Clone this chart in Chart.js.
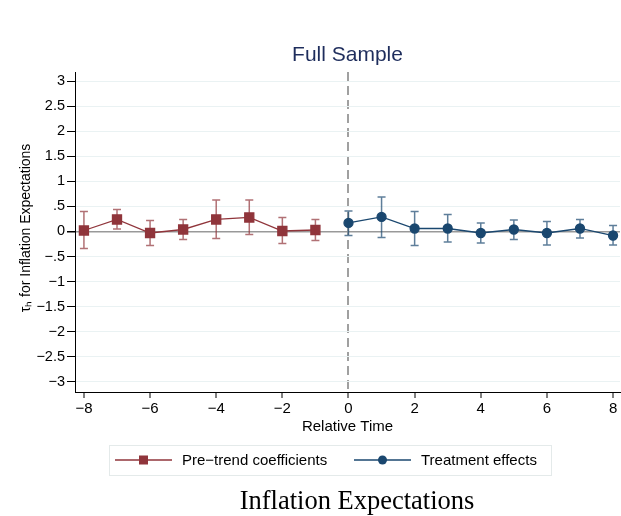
<!DOCTYPE html>
<html lang="en">
  <head>
    <meta charset="UTF-8" />
    <title>Full Sample</title>
    <style>
      body { margin: 0; background: #fff; }
      #wrap { width: 621px; height: 516px; }
    </style>
  </head>
  <body>
    <script src="https://cdn.jsdelivr.net/npm/chart.js"></script>
    <div id="wrap"><canvas id="myChart" width="621" height="516"></canvas></div>
    <script>
      // relative time and estimates
      const preX = [-8, -7, -6, -5, -4, -3, -2, -1];
      const preCoef = [0.02, 0.24, -0.03, 0.04, 0.24, 0.28, 0.01, 0.03];
      const preLo = [-0.34, 0.05, -0.28, -0.16, -0.14, -0.06, -0.24, -0.18];
      const preHi = [0.40, 0.44, 0.22, 0.24, 0.63, 0.63, 0.28, 0.24];

      const postX = [0, 1, 2, 3, 4, 5, 6, 7, 8];
      const postCoef = [0.17, 0.29, 0.06, 0.06, -0.03, 0.04, -0.03, 0.06, -0.08];
      const postLo = [-0.08, -0.12, -0.28, -0.21, -0.23, -0.16, -0.27, -0.13, -0.27];
      const postHi = [0.41, 0.69, 0.40, 0.34, 0.17, 0.23, 0.20, 0.24, 0.12];

      const xTicks = [-8, -6, -4, -2, 0, 2, 4, 6, 8];
      const yTicks = [-3, -2.5, -2, -1.5, -1, -0.5, 0, 0.5, 1, 1.5, 2, 2.5, 3];

      const red = "#90353b";
      const navy = "#1a476f";
      const sans = "'Liberation Sans', Arial, sans-serif";

      function fmt(v) {
        let s = String(Math.abs(v));
        if (s.startsWith("0.")) s = s.slice(1);
        return (v < 0 ? "\u2212" : "") + s;
      }

      const errorBars = {
        id: "errorBars",
        afterDatasetsDraw(chart) {
          const { ctx, scales } = chart;
          chart.data.datasets.forEach((ds) => {
            ctx.save();
            ctx.strokeStyle = ds.errColor;
            ctx.lineWidth = 1.5;
            ds.data.forEach((p, i) => {
              const x = scales.x.getPixelForValue(p.x);
              const y1 = scales.y.getPixelForValue(ds.lo[i]);
              const y2 = scales.y.getPixelForValue(ds.hi[i]);
              ctx.beginPath();
              ctx.moveTo(x, y1); ctx.lineTo(x, y2);
              ctx.moveTo(x - 4, y1); ctx.lineTo(x + 4, y1);
              ctx.moveTo(x - 4, y2); ctx.lineTo(x + 4, y2);
              ctx.stroke();
            });
            ctx.restore();
          });
        },
      };

      const decorations = {
        id: "decorations",
        afterDraw(chart) {
          const { ctx, chartArea } = chart;
          const cx = (chartArea.left + chartArea.right) / 2;
          ctx.save();
          ctx.textAlign = "center";
          ctx.textBaseline = "middle";
          ctx.fillStyle = "#1e2d5c";
          ctx.font = "21px " + sans;
          ctx.fillText("Full Sample", cx, 55);

          // y-axis title
          ctx.save();
          ctx.translate(26, 228);
          ctx.rotate(-Math.PI / 2);
          ctx.fillStyle = "#000";
          ctx.font = "14px " + sans;
          ctx.fillText("\u03c4\u2095 for Inflation Expectations", 0, 0);
          ctx.restore();

          // legend
          ctx.strokeStyle = "#e4eaea";
          ctx.lineWidth = 1;
          ctx.strokeRect(109.5, 445.5, 442, 30);
          const items = [
            { x0: 115, label: "Pre\u2212trend coefficients", color: red, style: "rect" },
            { x0: 354, label: "Treatment effects", color: navy, style: "circle" },
          ];
          ctx.font = "15px " + sans;
          ctx.textAlign = "left";
          items.forEach((it) => {
            const y = 460;
            ctx.strokeStyle = it.color;
            ctx.lineWidth = 1.3;
            ctx.beginPath();
            ctx.moveTo(it.x0, y); ctx.lineTo(it.x0 + 57, y);
            ctx.stroke();
            ctx.fillStyle = it.color;
            const mx = it.x0 + 28.5;
            if (it.style === "rect") {
              ctx.fillRect(mx - 4.5, y - 4.5, 9, 9);
            } else {
              ctx.beginPath();
              ctx.arc(mx, y, 4.5, 0, Math.PI * 2);
              ctx.fill();
            }
            ctx.fillStyle = "#000";
            ctx.fillText(it.label, it.x0 + 67, y + 1);
          });

          // caption
          ctx.textAlign = "center";
          ctx.fillStyle = "#000";
          ctx.font = "26.5px 'Liberation Serif', 'Times New Roman', serif";
          ctx.fillText("Inflation Expectations", 357, 502);
          ctx.restore();
        },
      };

      new Chart("myChart", {
        type: "line",
        data: {
          datasets: [
            {
              label: "Pre\u2212trend coefficients",
              data: preX.map((x, i) => ({ x, y: preCoef[i] })),
              lo: preLo,
              hi: preHi,
              errColor: "rgba(144,53,59,0.7)",
              borderColor: red,
              backgroundColor: red,
              borderWidth: 1.3,
              pointStyle: "rect",
              pointRadius: 6.4,
              pointHoverRadius: 6.4,
              tension: 0,
            },
            {
              label: "Treatment effects",
              data: postX.map((x, i) => ({ x, y: postCoef[i] })),
              lo: postLo,
              hi: postHi,
              errColor: "rgba(26,71,111,0.7)",
              borderColor: navy,
              backgroundColor: navy,
              borderWidth: 1.3,
              pointStyle: "circle",
              pointRadius: 4.5,
              pointHoverRadius: 4.5,
              tension: 0,
            },
          ],
        },
        options: {
          responsive: false,
          animation: false,
          devicePixelRatio: 1,
          layout: { autoPadding: false, padding: { top: 72, right: 1, bottom: 78, left: 0 } },
          plugins: {
            legend: { display: false },
            tooltip: { enabled: false },
          },
          scales: {
            x: {
              type: "linear",
              min: -8.27,
              max: 8.21,
              afterBuildTicks: (s) => { s.ticks = xTicks.map((v) => ({ value: v })); },
              afterFit: (s) => { s.height = 46; s.paddingLeft = 0; s.paddingRight = 0; },
              border: { color: "#000", width: 1, dash: [9, 5] },
              grid: {
                drawOnChartArea: true,
                color: (c) => (c.tick && c.tick.value === 0 ? "#a0a0a0" : "rgba(0,0,0,0)"),
                lineWidth: 2,
                tickColor: "#000",
                tickWidth: 1,
                tickBorderDash: [],
                tickLength: 6,
              },
              ticks: {
                color: "#000",
                padding: 2,
                maxRotation: 0,
                font: { family: sans, size: 15 },
                callback: (v) => fmt(v),
              },
              title: {
                display: true,
                text: "Relative Time",
                color: "#000",
                padding: { top: 0, bottom: 2 },
                font: { family: sans, size: 15 },
              },
            },
            y: {
              min: -3.2,
              max: 3.18,
              afterBuildTicks: (s) => { s.ticks = yTicks.map((v) => ({ value: v })); },
              afterFit: (s) => { s.width = 75; },
              border: { color: "#000", width: 1 },
              grid: {
                color: (c) => (c.tick && c.tick.value === 0 ? "#999999" : "#eaf2f3"),
                lineWidth: (c) => (c.tick && c.tick.value === 0 ? 1.5 : 1),
                tickColor: "#000",
                tickLength: 8,
              },
              ticks: {
                color: "#000",
                padding: 2,
                font: { family: sans, size: 14.5 },
                callback: (v) => fmt(v),
              },
            },
          },
        },
        plugins: [errorBars, decorations],
      });
    </script>
  </body>
</html>
